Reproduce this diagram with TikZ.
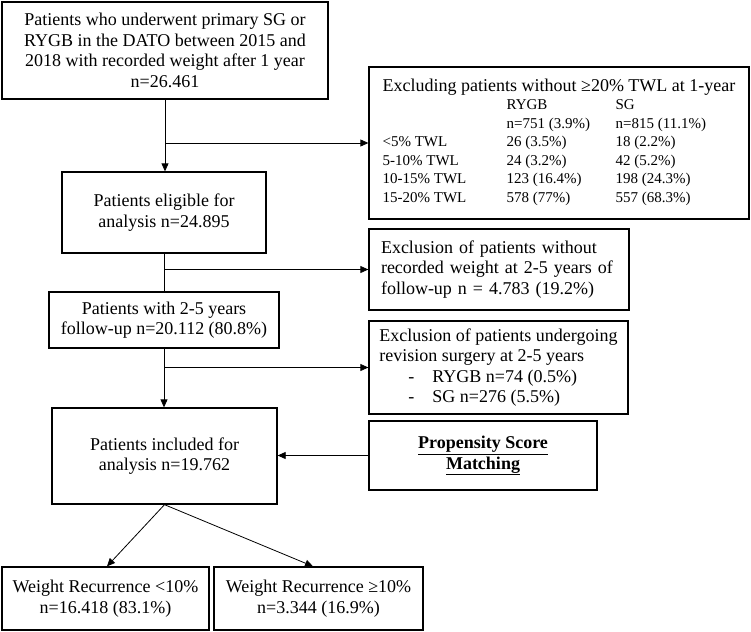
\documentclass[tikz,border=0pt]{standalone}
\usepackage{fontspec}
\setmainfont{Liberation Serif}
\usetikzlibrary{arrows.meta,calc}
\tikzset{pin/.style={-{Triangle[length=8pt,width=7pt]}, line width=0.8pt},
  link/.style={line width=0.8pt},
  box/.style={draw, line width=1.3pt, align=center, inner sep=0pt, font=\fontsize{18}{20.5}\selectfont},
  lbox/.style={box, align=left, inner xsep=12pt}}

\begin{document}
\begin{tikzpicture}[x=1pt,y=-1pt]
  \useasboundingbox (0,0) rectangle (751,631);
  % main column
  \node[box, minimum width=326pt, minimum height=97pt] (start) at (165,50.5) {Patients who underwent primary SG or\\RYGB in the DATO between 2015 and\\2018 with recorded weight after 1 year\\n=26.461};
  \node[box, minimum width=204pt, minimum height=81pt] (elig) at (164,212.5) {Patients eligible for\\analysis n=24.895};
  \node[box, minimum width=230pt, minimum height=56pt] (fu) at (164,320) {Patients with 2-5 years\\follow-up n=20.112 (80.8\%)};
  \node[box, minimum width=225pt, minimum height=96pt] (incl) at (164.5,456) {Patients included for\\analysis n=19.762};
  \node[box, minimum width=207pt, minimum height=63pt] (wrlow) at (105.5,598.5) {Weight Recurrence <10\%\\n=16.418 (83.1\%)};
  \node[box, minimum width=209pt, minimum height=63pt] (wrhigh) at (318.5,598.5) {Weight Recurrence ≥10\%\\n=3.344 (16.9\%)};
  % exclusions on the right
  \node[box, minimum width=380pt, minimum height=152pt] (twl) at (559,143) {\fontsize{15}{18.5}\selectfont
    \begin{tabular}{@{}p{124pt}@{}p{109pt}@{}l@{}}
      \multicolumn{3}{@{}l@{}}{\fontsize{18}{20.5}\selectfont Excluding patients without ≥20\% TWL at 1-year}\\
       & RYGB & SG\\
       & n=751 (3.9\%) & n=815 (11.1\%)\\
      <5\% TWL & 26 (3.5\%) & 18 (2.2\%)\\
      5-10\% TWL & 24 (3.2\%) & 42 (5.2\%)\\
      10-15\% TWL & 123 (16.4\%) & 198 (24.3\%)\\
      15-20\% TWL & 578 (77\%) & 557 (68.3\%)
    \end{tabular}};
  \node[lbox, text width=236pt, minimum height=81pt] (nowt) at (499,269.5) {Exclusion of patients without\\recorded weight at 2-5 years of\\follow-up n = 4.783 (19.2\%)};
  \node[box, align=left, minimum width=259pt, minimum height=93pt] (rev) at (498.5,367.5) {Exclusion of patients undergoing\\revision surgery at 2-5 years\\\hspace*{29pt}-\hspace*{18pt}RYGB n=74 (0.5\%)\\\hspace*{29pt}-\hspace*{18pt}SG n=276 (5.5\%)};
  \node[box, minimum width=228pt, minimum height=69pt] (psm) at (483,455.5) {\textbf{\underline{Propensity Score}}\\\textbf{\underline{Matching}}};
  % connectors
  \draw[pin] (start.south) -- (start.south |- elig.north);
  \draw[pin] (start.south |- twl.west) -- (twl.west);
  \draw[link] (elig.south) -- (fu.north);
  \draw[pin] (elig.south |- nowt.west) -- (nowt.west);
  \draw[pin] (fu.south) -- (fu.south |- incl.north);
  \draw[pin] (fu.south |- rev.west) -- (rev.west);
  \draw[pin] (psm.west) -- (psm.west -| incl.east);
  \draw[pin] (incl.south) -- ($(wrlow.north)+(1.5,0)$);
  \draw[pin] (incl.south) -- ($(wrhigh.north)+(-5.5,0)$);
\end{tikzpicture}
\end{document}
